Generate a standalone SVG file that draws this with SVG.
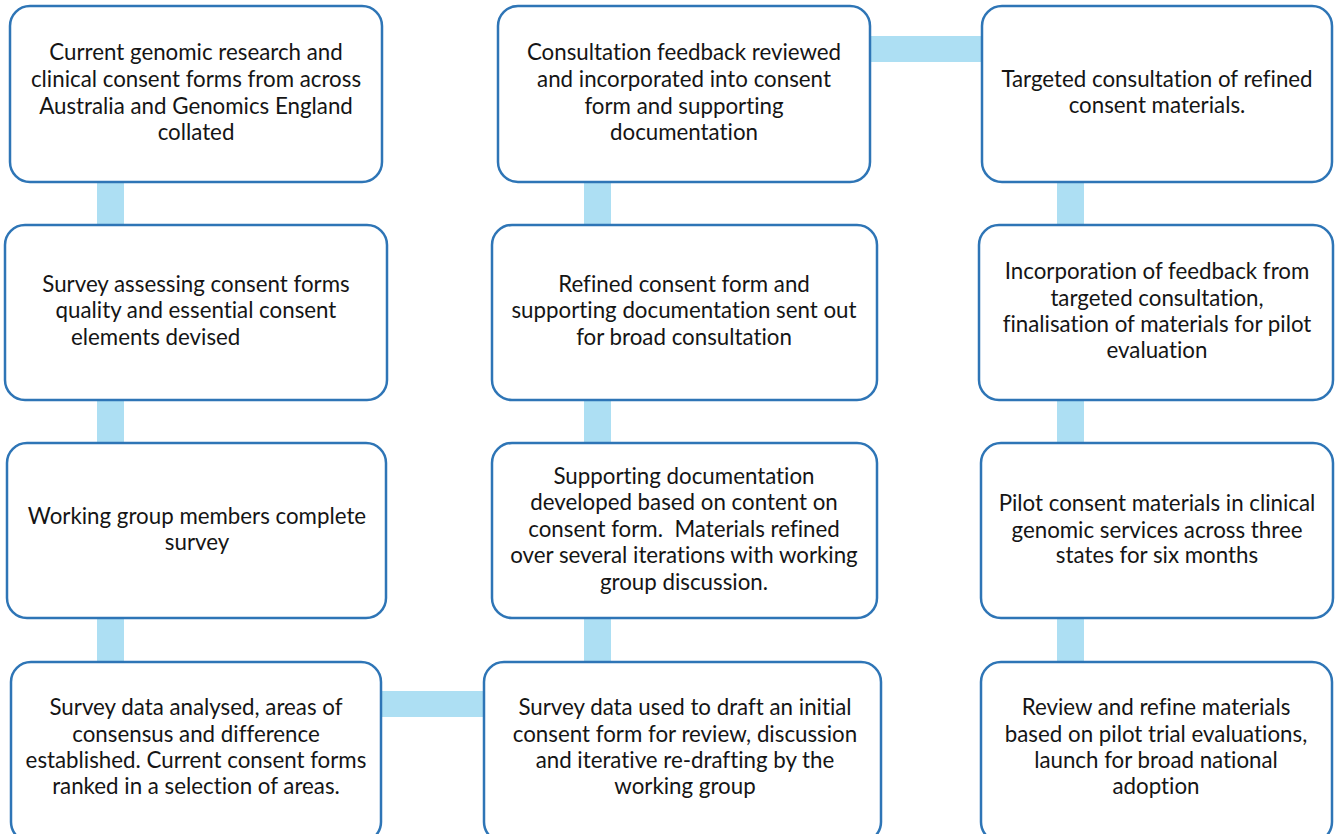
<svg xmlns="http://www.w3.org/2000/svg" width="1336" height="834" viewBox="0 0 1336 834">
<style>
.box{fill:#fff;stroke:#2e75b6;stroke-width:2.5}
.con{fill:#addff3}
text{font-family:Lato,"Liberation Sans",sans-serif;font-size:22.3px;fill:#151515;text-anchor:middle;font-variant-ligatures:none}
</style>
<rect width="1336" height="834" fill="#fff"/>
<g id="connectors">
<rect class="con" x="97" y="180" width="27" height="50"/>
<rect class="con" x="97" y="398" width="27" height="50"/>
<rect class="con" x="97" y="616" width="27" height="50"/>
<rect class="con" x="380" y="691" width="106" height="26"/>
<rect class="con" x="584" y="616" width="27" height="50"/>
<rect class="con" x="584" y="398" width="27" height="50"/>
<rect class="con" x="584" y="180" width="27" height="50"/>
<rect class="con" x="868" y="36" width="116" height="26"/>
<rect class="con" x="1057" y="180" width="27" height="50"/>
<rect class="con" x="1057" y="398" width="27" height="50"/>
<rect class="con" x="1057" y="616" width="27" height="50"/>
</g>
<g id="n1"><rect class="box" x="10" y="6" width="372" height="176" rx="20"/>
<text x="196" y="60">Current genomic research and</text>
<text x="196" y="87">clinical consent forms from across</text>
<text x="196" y="114">Australia and Genomics England</text>
<text x="196" y="140">collated</text></g>
<g id="n2"><rect class="box" x="5" y="225" width="382" height="175" rx="20"/>
<text x="196" y="292">Survey assessing consent forms</text>
<text x="196" y="318">quality and essential consent</text>
<text x="71" y="345" style="text-anchor:start">elements devised</text></g>
<g id="n3"><rect class="box" x="7" y="443" width="379" height="175" rx="20"/>
<text x="197" y="524">Working group members complete</text>
<text x="197" y="550">survey</text></g>
<g id="n4"><rect class="box" x="11" y="662" width="370" height="180" rx="20"/>
<text x="196" y="715">Survey data analysed, areas of</text>
<text x="196" y="742">consensus and difference</text>
<text x="196" y="768">established. Current consent forms</text>
<text x="196" y="794">ranked in a selection of areas.</text></g>
<g id="n5"><rect class="box" x="484" y="662" width="397" height="180" rx="20"/>
<text x="685" y="715">Survey data used to draft an initial</text>
<text x="685" y="742">consent form for review, discussion</text>
<text x="685" y="768">and iterative re-drafting by the</text>
<text x="685" y="794">working group</text></g>
<g id="n6"><rect class="box" x="492" y="443" width="385" height="175" rx="20"/>
<text x="684" y="484">Supporting documentation</text>
<text x="684" y="510">developed based on content on</text>
<text x="684" y="537" xml:space="preserve">consent form.  Materials refined</text>
<text x="684" y="563">over several iterations with working</text>
<text x="684" y="590">group discussion.</text></g>
<g id="n7"><rect class="box" x="492" y="225" width="385" height="175" rx="20"/>
<text x="684" y="292">Refined consent form and</text>
<text x="684" y="318">supporting documentation sent out</text>
<text x="684" y="345">for broad consultation</text></g>
<g id="n8"><rect class="box" x="498" y="6" width="372" height="176" rx="20"/>
<text x="684" y="60">Consultation feedback reviewed</text>
<text x="684" y="87">and incorporated into consent</text>
<text x="684" y="114">form and supporting</text>
<text x="684" y="140">documentation</text></g>
<g id="n9"><rect class="box" x="982" y="6" width="350" height="176" rx="20"/>
<text x="1157" y="87">Targeted consultation of refined</text>
<text x="1157" y="113">consent materials.</text></g>
<g id="n10"><rect class="box" x="979" y="225" width="354" height="175" rx="20"/>
<text x="1157" y="279">Incorporation of feedback from</text>
<text x="1157" y="306">targeted consultation,</text>
<text x="1157" y="332">finalisation of materials for pilot</text>
<text x="1157" y="358">evaluation</text></g>
<g id="n11"><rect class="box" x="981" y="443" width="352" height="175" rx="20"/>
<text x="1157" y="511">Pilot consent materials in clinical</text>
<text x="1157" y="538">genomic services across three</text>
<text x="1157" y="563">states for six months</text></g>
<g id="n12"><rect class="box" x="981" y="662" width="351" height="180" rx="20"/>
<text x="1156" y="715">Review and refine materials</text>
<text x="1156" y="742">based on pilot trial evaluations,</text>
<text x="1156" y="768">launch for broad national</text>
<text x="1156" y="794">adoption</text></g>
</svg>
